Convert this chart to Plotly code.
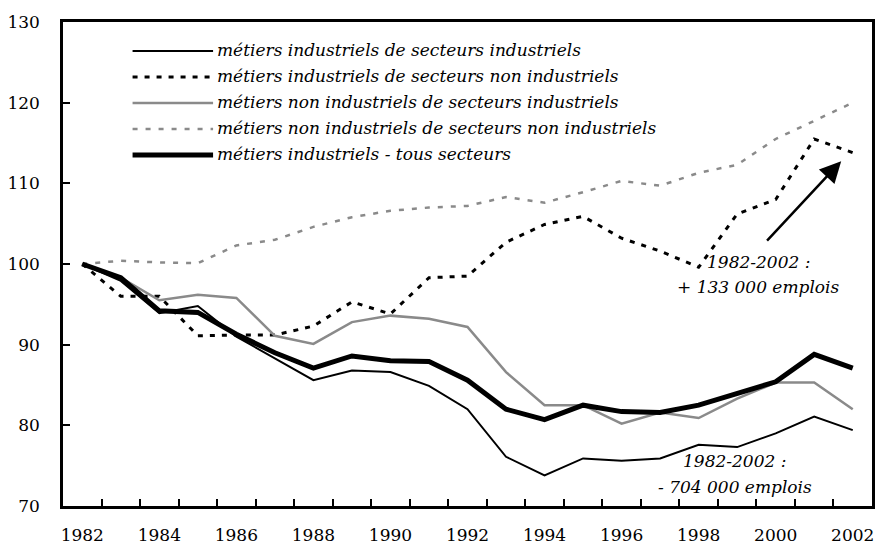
import plotly.graph_objects as go

# Indices base 100 en 1982
years = list(range(1982, 2003))

ind_ind = [100, 97.9, 93.9, 94.8, 91.0, 88.3, 85.6, 86.8, 86.6, 84.9, 82.0,
           76.1, 73.8, 75.9, 75.6, 75.9, 77.6, 77.3, 79.0, 81.1, 79.4]
ind_nonind = [100, 96.0, 96.0, 91.1, 91.2, 91.2, 92.3, 95.3, 93.8, 98.3, 98.5,
              102.7, 104.9, 105.9, 103.2, 101.6, 99.6, 106.2, 108.0, 115.5, 113.8]
nonind_ind = [100, 98.3, 95.5, 96.2, 95.8, 91.1, 90.1, 92.8, 93.6, 93.2, 92.2,
              86.6, 82.5, 82.5, 80.2, 81.6, 80.9, 83.3, 85.3, 85.3, 82.0]
nonind_nonind = [100, 100.4, 100.2, 100.1, 102.3, 103.0, 104.6, 105.8, 106.6, 107.0, 107.2,
                 108.3, 107.6, 108.9, 110.3, 109.7, 111.3, 112.3, 115.5, 117.7, 120.0]
ind_all = [100, 98.3, 94.2, 94.0, 91.3, 89.0, 87.1, 88.6, 88.0, 87.9, 85.6,
           82.0, 80.7, 82.5, 81.7, 81.6, 82.5, 83.9, 85.4, 88.8, 87.1]

names = [
    "métiers industriels de secteurs industriels",
    "métiers industriels de secteurs non industriels",
    "métiers non industriels de secteurs industriels",
    "métiers non industriels de secteurs non industriels",
    "métiers industriels - tous secteurs",
]
series = [ind_ind, ind_nonind, nonind_ind, nonind_nonind, ind_all]

year_labels = list(range(1982, 2003, 2))
y_ticks = list(range(70, 131, 10))

GREY = "#8a8a8a"
styles = [
    dict(color="black", width=2, dash="solid"),
    dict(color="black", width=3, dash="5px,7px"),
    dict(color=GREY, width=2.5, dash="solid"),
    dict(color=GREY, width=2.5, dash="5px,8px"),
    dict(color="black", width=5, dash="solid"),
]

SERIF = "DejaVu Serif"

# plot area in pixels
W, H = 882, 552
L, R, T, B = 61, 875, 22, 506


def px(x):
    return (x - L) / (R - L)


def py(y):
    return (B - y) / (B - T)


fig = go.Figure()
for i, (name, vals, st) in enumerate(zip(names, series, styles)):
    # the last series carries the labelled year axis (x2, tied to x)
    fig.add_trace(go.Scatter(x=years, y=vals, mode="lines", name=name,
                             line=st, showlegend=False, hoverinfo="x+y",
                             xaxis="x2" if i == len(series) - 1 else "x"))

# legend drawn as line samples + italic labels
shapes = []
annotations = []
row_y = [51, 77, 103, 129, 155]
for name, st, ry in zip(names, styles, row_y):
    shapes.append(dict(type="line", xref="paper", yref="paper",
                       x0=px(131), x1=px(212), y0=py(ry), y1=py(ry),
                       line=st))
    annotations.append(dict(xref="paper", yref="paper", x=px(214), y=py(ry - 1),
                            xanchor="left", yanchor="middle", showarrow=False,
                            text=f"<i>{name}</i>",
                            font=dict(family=SERIF, size=17, color="black")))

# arrow pointing to the end of the non-industrial sectors series
annotations.append(dict(x=2001.70, y=112.75, ax=1999.74, ay=102.7,
                        xref="x", yref="y", axref="x", ayref="y",
                        text="", showarrow=True, arrowhead=2, arrowsize=1.7,
                        arrowwidth=2.5, arrowcolor="black", standoff=0))


def note(x, y, text):
    return dict(x=x, y=y, xref="x", yref="y", showarrow=False,
                text=f"<i>{text}</i>",
                font=dict(family=SERIF, size=17, color="black"),
                xanchor="center", yanchor="middle")


annotations += [
    note(1999.55, 100.3, "1982-2002 :"),
    note(1999.55, 97.1, "+ 133 000 emplois"),
    note(1998.94, 75.6, "1982-2002 :"),
    note(1998.94, 72.3, "- 704 000 emplois"),
]

fig.update_layout(
    width=W, height=H,
    margin=dict(l=L, r=W - R, t=T, b=H - B, pad=0),
    paper_bgcolor="white", plot_bgcolor="white",
    font=dict(family=SERIF, size=17, color="black"),
    shapes=shapes, annotations=annotations,
    xaxis=dict(range=[1981.5, 2002.5], tickvals=[y + 0.5 for y in years[:-1]],
               ticks="inside", ticklen=7, tickwidth=2, tickcolor="black",
               showticklabels=False, showline=True, linewidth=2.5, linecolor="black",
               mirror=True, showgrid=False, zeroline=False, fixedrange=True),
    xaxis2=dict(overlaying="x", anchor="y", side="bottom", matches="x",
                tickvals=year_labels, ticktext=[str(y) for y in year_labels],
                ticks="", showline=False, showgrid=False, zeroline=False,
                ticklabelstandoff=17, tickfont=dict(family=SERIF, size=17)),
    yaxis=dict(range=[70, 130], tickvals=y_ticks, ticks="inside", ticklen=7,
               tickwidth=2, tickcolor="black", showline=True, linewidth=2.5,
               linecolor="black", mirror=True, showgrid=False, zeroline=False,
               ticklabelstandoff=17, tickfont=dict(family=SERIF, size=17)),
)

fig.write_html("out.html")
